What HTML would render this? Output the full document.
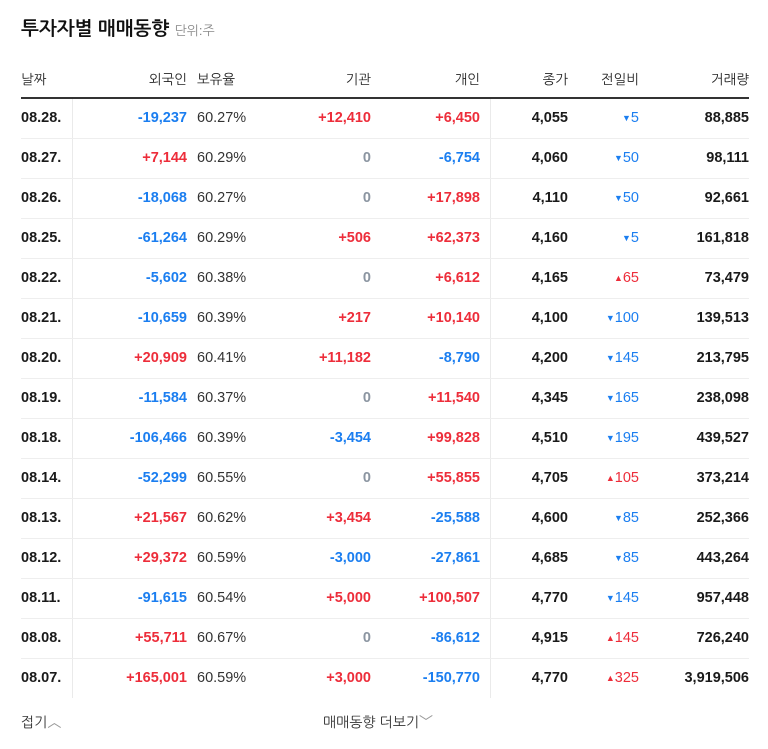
<!DOCTYPE html>
<html><head><meta charset="utf-8">
<style>
body{margin:0;background:#fff;width:768px;height:749px;overflow:hidden;position:relative;font-family:"Liberation Sans","NanumGothic","Noto Sans CJK KR",sans-serif;}
.a{position:absolute;white-space:nowrap;}
.t{position:absolute;font-size:14.5px;font-weight:bold;line-height:20px;white-space:nowrap;}
.r{text-align:right;}
.red{color:#ed2d3a}.blue{color:#1b7ef0}.gray{color:#8b95a1}.blk{color:#1a1a1a}
.hd{position:absolute;top:71px;font-size:13.5px;color:#222;line-height:18px;}
</style></head><body>
<div class="a" style="left:21px;top:19px;font-size:19px;font-weight:bold;color:#111;">투자자별 매매동향 <span style="font-size:13px;font-weight:normal;color:#888;">단위:주</span></div>
<div class="hd" style="left:21px">날짜</div>
<div class="hd r" style="right:581px">외국인</div>
<div class="hd" style="left:197px">보유율</div>
<div class="hd r" style="right:397px">기관</div>
<div class="hd r" style="right:288px">개인</div>
<div class="hd r" style="right:200px">종가</div>
<div class="hd r" style="right:129px">전일비</div>
<div class="hd r" style="right:19px">거래량</div>
<div class="a" style="left:21px;top:97px;width:728px;height:2px;background:#333"></div>
<div class="a" style="left:72px;top:99px;width:1px;height:599px;background:#eaeaea"></div>
<div class="a" style="left:490px;top:99px;width:1px;height:599px;background:#eaeaea"></div>
<div id="rows"></div>
<div class="a" style="left:21px;top:712px;font-size:14px;color:#333">접기<span style="color:#999">︿</span></div>
<div class="a" style="left:323px;top:712px;font-size:14px;color:#333">매매동향 더보기<span style="color:#999">﹀</span></div>
<script>
const dates=["08.28.","08.27.","08.26.","08.25.","08.22.","08.21.","08.20.","08.19.","08.18.","08.14.","08.13.","08.12.","08.11.","08.08.","08.07."];
const foreign=[-19237,7144,-18068,-61264,-5602,-10659,20909,-11584,-106466,-52299,21567,29372,-91615,55711,165001];
const holding=["60.27%","60.29%","60.27%","60.29%","60.38%","60.39%","60.41%","60.37%","60.39%","60.55%","60.62%","60.59%","60.54%","60.67%","60.59%"];
const inst=[12410,0,0,506,0,217,11182,0,-3454,0,3454,-3000,5000,0,3000];
const indiv=[6450,-6754,17898,62373,6612,10140,-8790,11540,99828,55855,-25588,-27861,100507,-86612,-150770];
const closeP=[4055,4060,4110,4160,4165,4100,4200,4345,4510,4705,4600,4685,4770,4915,4770];
const change=[-5,-50,-50,-5,65,-100,-145,-165,-195,105,-85,-85,-145,145,325];
const volume=[88885,98111,92661,161818,73479,139513,213795,238098,439527,373214,252366,443264,957448,726240,3919506];
const f=n=>n.toLocaleString('en-US');
const s=n=>n>0?'+'+f(n):f(n);
const c=n=>n>0?'red':n<0?'blue':'gray';
const root=document.getElementById('rows');
function cell(row,cls,style,txt,name){const d=document.createElement('div');d.className='t '+cls;d.setAttribute('style',style+';top:'+(108+row*40)+'px');d.textContent=txt;


root.appendChild(d);}
dates.forEach((d,i)=>{
 cell(i,'blk','left:21px',d,'date-cell');
 cell(i,'r '+c(foreign[i]),'right:581px',s(foreign[i]),'foreign-cell');
 const h=document.createElement('div');h.className='t';h.setAttribute('style','left:197px;font-weight:normal;color:#333;top:'+(108+i*40)+'px');h.textContent=holding[i];
 
 
 root.appendChild(h);
 cell(i,'r '+c(inst[i]),'right:397px',s(inst[i]),'institution-cell');
 cell(i,'r '+c(indiv[i]),'right:288px',s(indiv[i]),'individual-cell');
 cell(i,'r blk','right:200px',f(closeP[i]),'close-cell');
 const ch=document.createElement('div');ch.className='t r '+(change[i]>0?'red':'blue');ch.setAttribute('style','right:129px;font-weight:normal;top:'+(108+i*40)+'px');
 ch.innerHTML='<span style="font-size:9px;vertical-align:1px">'+(change[i]>0?'▲':'▼')+'</span>'+Math.abs(change[i]);
 
 
 root.appendChild(ch);
 cell(i,'r blk','right:19px',f(volume[i]),'volume-cell');
 if(i<dates.length-1){const l=document.createElement('div');l.className='a';l.setAttribute('style','left:21px;width:728px;height:1px;background:#eeeeee;top:'+(138+i*40)+'px');
 
 
 root.appendChild(l);}
});
</script>
</body></html>
